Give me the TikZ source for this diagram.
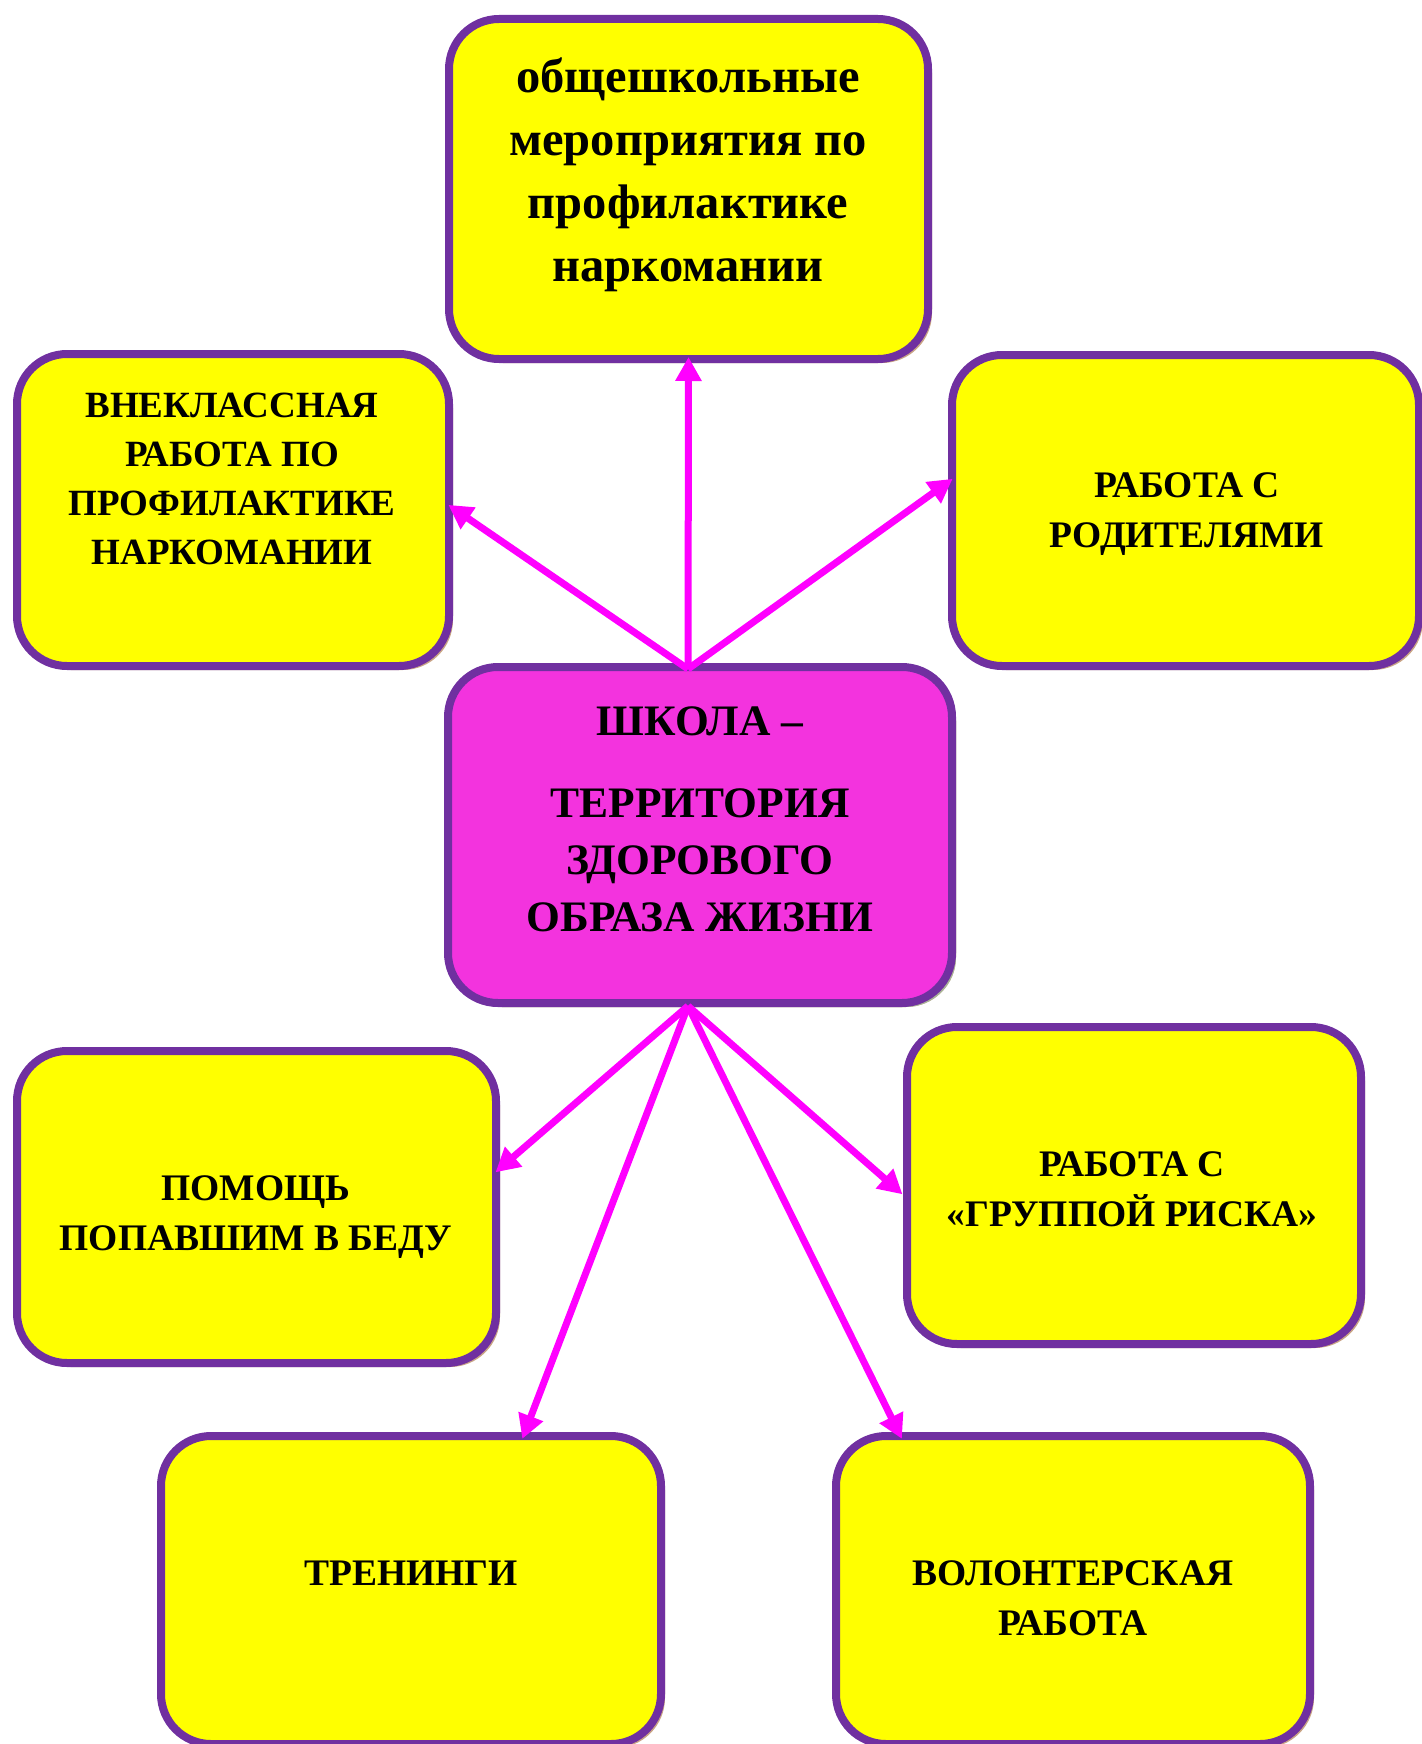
\documentclass[tikz,border=0pt]{standalone}
\usepackage{fontspec}
\setmainfont{Liberation Serif}
\usetikzlibrary{arrows.meta,shadows}
\definecolor{bordpurple}{HTML}{7030A0}
\definecolor{boxyellow}{HTML}{FFFF00}
\definecolor{centerpink}{HTML}{F333DE}
\definecolor{arrowmag}{HTML}{FF00FF}
\definecolor{shadowtan}{HTML}{C9A486}
\definecolor{shadowgrey}{HTML}{A8B498}
\tikzset{
  box/.style={draw=bordpurple, line width=8pt, fill=boxyellow, rounded corners=50pt,
    inner sep=0pt, outer sep=0pt,
    drop shadow={shadow xshift=4pt, shadow yshift=-4pt, fill=shadowtan, opacity=1}},
  centerbox/.style={box, fill=centerpink,
    drop shadow={shadow xshift=4pt, shadow yshift=-4pt, fill=shadowgrey, opacity=1}},
  label/.style={align=center, inner sep=0pt, font=\bfseries},
  conn/.style={draw=arrowmag, line width=7pt, -{Triangle[length=24pt,width=25pt]}, shorten >=-2pt}
}
\begin{document}
\begin{tikzpicture}[x=1pt,y=-1pt]
\useasboundingbox (0,0) rectangle (1421,1744);
% boxes
\node[box, minimum width=479pt, minimum height=340pt] (tb) at (688.5,189) {};
\node[box, minimum width=432pt, minimum height=312pt] (lb) at (233,510) {};
\node[box, minimum width=467pt, minimum height=311pt] (rb) at (1185.5,510.5) {};
\node[centerbox, minimum width=504pt, minimum height=336pt] (cb) at (700,835) {};
\node[box, minimum width=479pt, minimum height=312pt] (pb) at (256.5,1207) {};
\node[box, minimum width=454pt, minimum height=317pt] (gb) at (1134,1185.5) {};
\node[box, minimum width=500pt, minimum height=308pt] (trb) at (411,1590) {};
\node[box, minimum width=474pt, minimum height=308pt] (vb) at (1073,1590) {};
% texts
\node[label, font=\bfseries\fontsize{48.5}{63}\selectfont] (tbt) at (688,175)
  {общешкольные\\мероприятия по\\профилактике\\наркомании};
\node[label, font=\bfseries\fontsize{37}{49}\selectfont] (lbt) at (232,479)
  {ВНЕКЛАССНАЯ\\РАБОТА ПО\\ПРОФИЛАКТИКЕ\\НАРКОМАНИИ};
\node[label, font=\bfseries\fontsize{37.5}{50}\selectfont] (rbt) at (1187,514)
  {РАБОТА С\\РОДИТЕЛЯМИ};
\node[label, font=\bfseries\fontsize{43.5}{57}\selectfont] (cbt1) at (700,721) {ШКОЛА –};
\node[label, font=\bfseries\fontsize{43.5}{57}\selectfont] (cbt2) at (700,860)
  {ТЕРРИТОРИЯ\\ЗДОРОВОГО\\ОБРАЗА ЖИЗНИ};
\node[label, font=\bfseries\fontsize{37.5}{50}\selectfont] (pbt) at (256,1217)
  {ПОМОЩЬ\\ПОПАВШИМ В БЕДУ};
\node[label, font=\bfseries\fontsize{37.5}{50}\selectfont] (gbt) at (1132,1189)
  {РАБОТА С\\«ГРУППОЙ РИСКА»};
\node[label, font=\bfseries\fontsize{37.5}{50}\selectfont] (trbt) at (411,1573) {ТРЕНИНГИ};
\node[label, font=\bfseries\fontsize{37.5}{50}\selectfont] (vbt) at (1073,1598)
  {ВОЛОНТЕРСКАЯ\\РАБОТА};
% connector end points
\coordinate (ctop) at (688,669);
\coordinate (cbot) at (688,1006);
\coordinate (tlb) at (450,506);
\coordinate (trb0) at (951,480);
\coordinate (tpb) at (497,1171);
\coordinate (ttrb) at (523,1437);
\coordinate (tvb) at (901,1437);
\coordinate (tgb) at (901,1193);
% connectors
\draw[conn] (ctop) -- (tb.south);
\draw[conn] (ctop) -- (tlb);
\draw[conn] (ctop) -- (trb0);
\draw[conn] (cbot) -- (tpb);
\draw[conn] (cbot) -- (ttrb);
\draw[conn] (cbot) -- (tvb);
\draw[conn] (cbot) -- (tgb);
\end{tikzpicture}
\end{document}
